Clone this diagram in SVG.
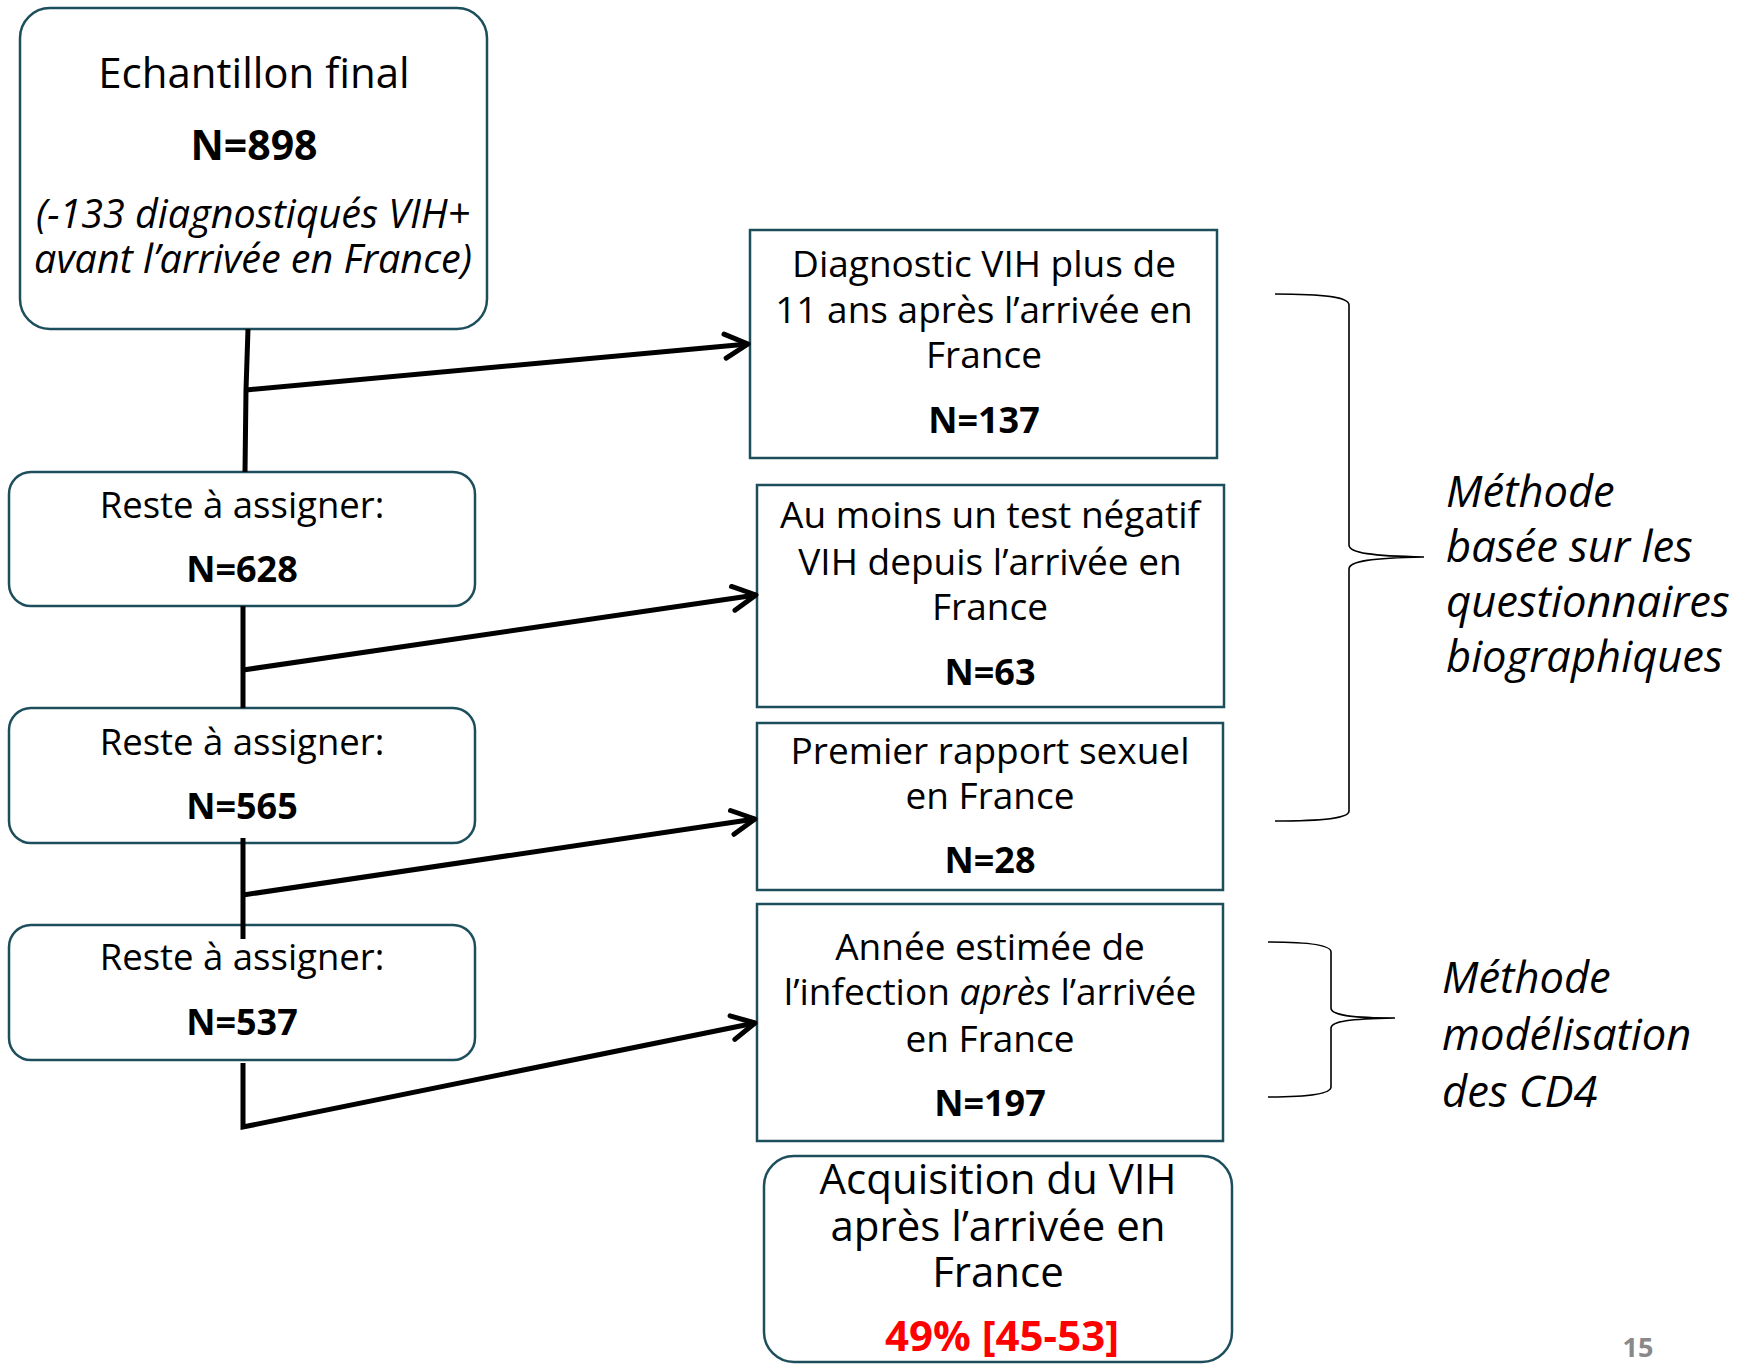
<svg xmlns="http://www.w3.org/2000/svg" width="1750" height="1365" viewBox="0 0 1750 1365">
<style>
.box{fill:#ffffff;stroke:#1d4e5c;stroke-width:2.5}
.t{font-family:"Open Sans","Liberation Sans",sans-serif;fill:#000;text-anchor:middle}
.b{font-weight:bold}
.i{font-style:italic}
.ann{font-family:"Open Sans","Liberation Sans",sans-serif;font-style:italic;font-size:43.5px;fill:#000}
.conn{fill:none;stroke:#000;stroke-width:5;stroke-linejoin:miter}
.brace{fill:none;stroke:#000;stroke-width:1.6}
</style>
<defs>
<marker id="arr" markerUnits="userSpaceOnUse" markerWidth="32" markerHeight="32" viewBox="0 0 32 32" refX="28" refY="16" orient="auto">
<path d="M5,4 L28,16 L5,28" fill="none" stroke="#000" stroke-width="5" stroke-linecap="round" stroke-linejoin="round"/>
</marker>
</defs>
<rect width="1750" height="1365" fill="#ffffff"/>

<g id="n-echantillon">
<rect class="box" x="20" y="8" width="467" height="321" rx="30"/>
<text class="t" x="254" y="88" font-size="42">Echantillon final</text>
<text class="t b" x="254" y="160" font-size="41">N=898</text>
<text class="t i" x="253" y="228" font-size="39.5">(-133 diagnostiqués VIH+</text>
<text class="t i" x="253" y="273" font-size="39.5">avant l’arrivée en France)</text>
</g>

<g id="n-reste628">
<rect class="box" x="9" y="472" width="466" height="134" rx="22"/>
<text class="t" x="242" y="518" font-size="36.5">Reste à assigner:</text>
<text class="t b" x="242" y="582" font-size="36">N=628</text>
</g>

<g id="n-reste565">
<rect class="box" x="9" y="708" width="466" height="135" rx="22"/>
<text class="t" x="242" y="755" font-size="36.5">Reste à assigner:</text>
<text class="t b" x="242" y="819" font-size="36">N=565</text>
</g>

<g id="n-reste537">
<rect class="box" x="9" y="925" width="466" height="135" rx="22"/>
<text class="t" x="242" y="970" font-size="36.5">Reste à assigner:</text>
<text class="t b" x="242" y="1035" font-size="36">N=537</text>
</g>

<g id="n-diag11">
<rect class="box" x="750" y="230" width="467" height="228"/>
<text class="t" x="984" y="277" font-size="37">Diagnostic VIH plus de</text>
<text class="t" x="984" y="323" font-size="37">11 ans après l’arrivée en</text>
<text class="t" x="984" y="368" font-size="37">France</text>
<text class="t b" x="984" y="433" font-size="36">N=137</text>
</g>

<g id="n-testneg">
<rect class="box" x="757" y="485" width="467" height="222"/>
<text class="t" x="990" y="528" font-size="37">Au moins un test négatif</text>
<text class="t" x="990" y="575" font-size="37">VIH depuis l’arrivée en</text>
<text class="t" x="990" y="620" font-size="37">France</text>
<text class="t b" x="990" y="685" font-size="36">N=63</text>
</g>

<g id="n-rapport">
<rect class="box" x="757" y="723" width="466" height="167"/>
<text class="t" x="990" y="764" font-size="37">Premier rapport sexuel</text>
<text class="t" x="990" y="809" font-size="37">en France</text>
<text class="t b" x="990" y="873" font-size="36">N=28</text>
</g>

<g id="n-annee">
<rect class="box" x="757" y="904" width="466" height="237"/>
<text class="t" x="990" y="960" font-size="37">Année estimée de</text>
<text class="t" x="990" y="1005" font-size="37">l’infection <tspan class="i">après</tspan> l’arrivée</text>
<text class="t" x="990" y="1052" font-size="37">en France</text>
<text class="t b" x="990" y="1116" font-size="36">N=197</text>
</g>

<g id="n-acquisition">
<rect class="box" x="764" y="1156" width="468" height="206" rx="30"/>
<text class="t" x="998" y="1194" font-size="42">Acquisition du VIH</text>
<text class="t" x="998" y="1241" font-size="42">après l’arrivée en</text>
<text class="t" x="998" y="1287" font-size="42">France</text>
<text class="t b" x="1002" y="1351" font-size="42" style="fill:#ff0000">49% [45-53]</text>
</g>

<g id="connectors">
<polyline class="conn" points="248,329 246,390 245,472"/>
<line class="conn" x1="246" y1="390" x2="748" y2="344" marker-end="url(#arr)"/>
<line class="conn" x1="243" y1="606" x2="243" y2="708"/>
<line class="conn" x1="243" y1="670" x2="756" y2="595" marker-end="url(#arr)"/>
<line class="conn" x1="243" y1="838" x2="243" y2="939"/>
<line class="conn" x1="243" y1="895" x2="755" y2="819" marker-end="url(#arr)"/>
<polyline class="conn" points="243,1063 243,1127 755,1023" marker-end="url(#arr)"/>
</g>

<g id="brace-questionnaires">
<path class="brace" d="M1275,294 C1325,294 1349,297 1349,305 L1349,545 C1349,553 1372,556 1424,557 C1372,558 1349,561 1349,569 L1349,811 C1349,818 1325,821 1275,821"/>
<text class="ann" x="1446" y="507">Méthode</text>
<text class="ann" x="1446" y="562">basée sur les</text>
<text class="ann" x="1446" y="617">questionnaires</text>
<text class="ann" x="1446" y="672">biographiques</text>
</g>

<g id="brace-cd4">
<path class="brace" d="M1268,942 C1310,942 1331,945 1331,952 L1331,1008 C1331,1015 1350,1018 1395,1018 C1350,1019 1331,1021 1331,1028 L1331,1087 C1331,1094 1310,1097 1268,1097"/>
<text class="ann" x="1442" y="993">Méthode</text>
<text class="ann" x="1442" y="1050">modélisation</text>
<text class="ann" x="1442" y="1107">des CD4</text>
</g>

<text x="1638" y="1357" font-family="Open Sans, Liberation Sans, sans-serif" font-weight="bold" font-size="27" fill="#898989" text-anchor="middle">15</text>
</svg>
